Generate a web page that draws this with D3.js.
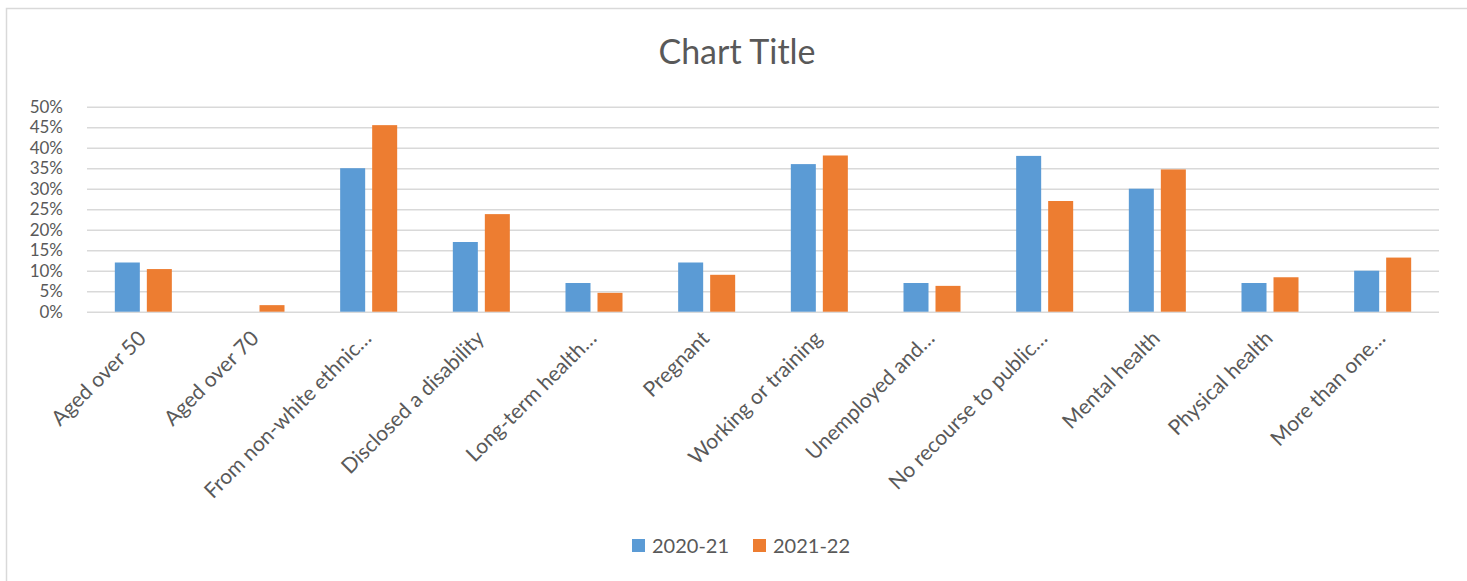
<!DOCTYPE html>
<html>
<head>
<meta charset="utf-8">
<script src="https://cdn.jsdelivr.net/npm/d3@7"></script>
<style>
  html, body { margin: 0; padding: 0; background: #fff; }
  svg { display: block; font-family: Lato, "Open Sans", sans-serif; }
</style>
</head>
<body>
<div id="chart"></div>
<script>
// categories and the two years (fractions)
const categories = [
  'Aged over 50', 'Aged over 70', 'From non-white ethnic…', 'Disclosed a disability',
  'Long-term health…', 'Pregnant', 'Working or training', 'Unemployed and…',
  'No recourse to public…', 'Mental health', 'Physical health', 'More than one…'
];
const series = ['2020-21', '2021-22'];
const values2020 = [0.12, 0, 0.35, 0.17, 0.07, 0.12, 0.36, 0.07, 0.38, 0.30, 0.07, 0.10];
const values2021 = [0.104, 0.016, 0.455, 0.238, 0.046, 0.09, 0.381, 0.063, 0.27, 0.347, 0.084, 0.132];
const yTicks = [0, 0.05, 0.1, 0.15, 0.2, 0.25, 0.3, 0.35, 0.4, 0.45, 0.5];

const width = 1467, height = 581;
const colors = { '2020-21': '#5B9BD5', '2021-22': '#ED7D31' };
const plot = { left: 87, right: 1439, top: 106.7, bottom: 311.7 };

const data = categories.map((c, i) => ({ cat: c, '2020-21': values2020[i], '2021-22': values2021[i] }));

const svg = d3.select('#chart').append('svg')
    .attr('width', width)
    .attr('height', height);

// outer chart frame (cropped at right/bottom in the picture)
svg.append('rect')
    .attr('x', 6.5).attr('y', 8.5)
    .attr('width', width + 20).attr('height', height + 20)
    .attr('fill', '#fff')
    .attr('stroke', '#d9d9d9')
    .attr('stroke-width', 1.5);

svg.append('text')
    .attr('x', 737).attr('y', 64)
    .attr('text-anchor', 'middle')
    .attr('fill', '#595959')
    .style('font-size', '34px')
    .text('Chart Title');

const x0 = d3.scaleBand().domain(categories).range([plot.left, plot.right]).padding(0);
const groupW = x0.bandwidth() * 0.506;
const x1 = d3.scaleBand().domain(series)
    .range([(x0.bandwidth() - groupW) / 2, (x0.bandwidth() + groupW) / 2])
    .paddingInner(7 / 32);
const y = d3.scaleLinear().domain([0, 0.5]).range([plot.bottom, plot.top]);

// gridlines + y labels
const yAxis = d3.axisLeft(y)
    .tickValues(yTicks)
    .tickSize(-(plot.right - plot.left))
    .tickPadding(24)
    .tickFormat(d3.format('.0%'));

const gy = svg.append('g')
    .attr('transform', `translate(${plot.left},0)`)
    .call(yAxis);
gy.select('.domain').remove();
gy.selectAll('.tick line').attr('stroke', '#d9d9d9').attr('stroke-width', 1.4);
gy.selectAll('.tick text')
    .attr('fill', '#595959')
    .style('font-size', '17px')
    .attr('font-family', 'Lato, "Open Sans", sans-serif');

// bars
const groups = svg.append('g').selectAll('g')
    .data(data).join('g')
    .attr('transform', d => `translate(${x0(d.cat)},0)`);

groups.selectAll('rect')
    .data(d => series.map(s => ({ s, v: d[s] })))
    .join('rect')
    .attr('x', d => x1(d.s))
    .attr('width', x1.bandwidth())
    .attr('y', d => y(d.v))
    .attr('height', d => y(0) - y(d.v))
    .attr('fill', d => colors[d.s]);

// rotated category labels
svg.append('g').selectAll('text')
    .data(categories).join('text')
    .attr('transform', d => `translate(${x0(d) + x0.bandwidth() / 2 + 4},${plot.bottom + 28}) rotate(-45)`)
    .attr('text-anchor', 'end')
    .attr('fill', '#595959')
    .style('font-size', '21px')
    .text(d => d);

// legend
const legend = svg.append('g').attr('transform', 'translate(632,539)');
const items = legend.selectAll('g').data(series).join('g')
    .attr('transform', (d, i) => `translate(${i * 121},0)`);
items.append('rect')
    .attr('width', 13).attr('height', 13)
    .attr('fill', d => colors[d]);
items.append('text')
    .attr('x', 20).attr('y', 6.5).attr('dy', '0.35em')
    .attr('fill', '#595959')
    .style('font-size', '20px')
    .text(d => d);
</script>
</body>
</html>
